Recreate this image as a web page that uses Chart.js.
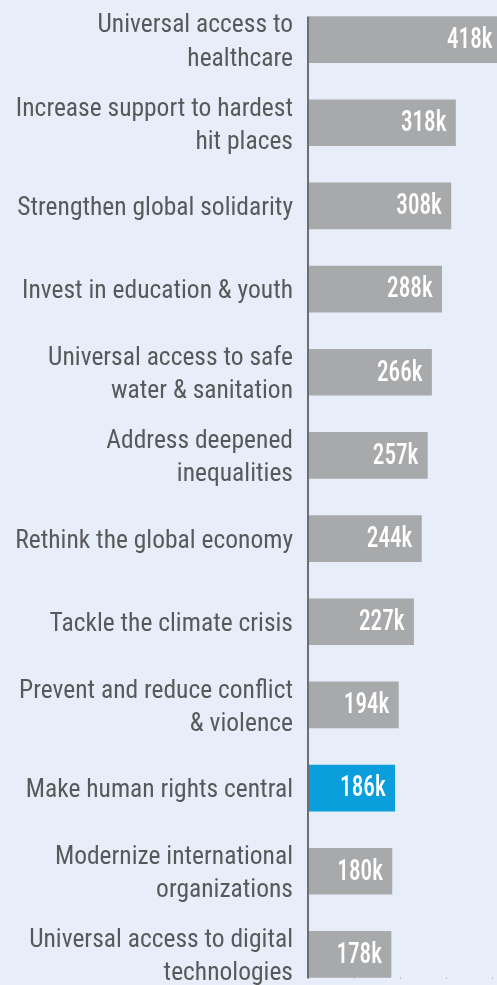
<!DOCTYPE html>
<html>
<head>
<meta charset="utf-8">
<script src="https://cdn.jsdelivr.net/npm/chart.js@4.4.1/dist/chart.umd.min.js"></script>
<style>
  html, body { margin: 0; padding: 0; background: #e7eef9; width: 497px; height: 985px; overflow: hidden; }
  #wrap { position: absolute; left: 0; top: -2px; }
  canvas { display: block; }
</style>
</head>
<body>
<div id="wrap"><canvas id="c" width="520" height="998"></canvas></div>
<script>
const categories = [
  ["Universal access to", "healthcare"],
  ["Increase support to hardest", "hit places"],
  "Strengthen global solidarity",
  "Invest in education & youth",
  ["Universal access to safe", "water & sanitation"],
  ["Address deepened", "inequalities"],
  "Rethink the global economy",
  "Tackle the climate crisis",
  ["Prevent and reduce conflict", "& violence"],
  "Make human rights central",
  ["Modernize international", "organizations"],
  ["Universal access to digital", "technologies"]
];
const values = [418, 318, 308, 288, 266, 257, 244, 227, 194, 186, 180, 178];
const valueLabels = ["418k", "318k", "308k", "288k", "266k", "257k", "244k", "227k", "194k", "186k", "180k", "178k"];
const highlightIndex = 9;
const axisTicks = [0, 100, 200, 300, 400];

const FONT = '"Roboto Condensed", "Liberation Sans Narrow", "DejaVu Sans Condensed", "Arial Narrow", sans-serif';
const GRAY = '#a8a9ab';
const BLUE = '#0a9edc';

const overlay = {
  id: 'overlay',
  afterDatasetsDraw(chart) {
    const ctx = chart.ctx;
    const meta = chart.getDatasetMeta(0);
    const bars = meta.data;
    const xs = chart.scales.x;
    // value labels (narrowed)
    const sx = 0.8;
    bars.forEach((b, i) => {
      ctx.save();
      ctx.translate(b.x - 9, b.y + 1);
      ctx.scale(sx, 1);
      ctx.font = '500 29px ' + FONT;
      ctx.fillStyle = '#ffffff';
      ctx.textAlign = 'right';
      ctx.textBaseline = 'middle';
      ctx.fillText(valueLabels[i], 0, 0);
      ctx.restore();
    });
    ctx.save();
    // axis line from first bar top to last bar bottom
    const first = bars[0], last = bars[bars.length - 1];
    const top = first.y - first.height / 2;
    const bottom = last.y + last.height / 2;
    ctx.strokeStyle = '#6e6e70';
    ctx.lineWidth = 2;
    ctx.beginPath();
    ctx.moveTo(xs.getPixelForValue(0) - 1, top);
    ctx.lineTo(xs.getPixelForValue(0) - 1, bottom + 1);
    ctx.stroke();
    // small tick marks
    ctx.fillStyle = '#9a9a9c';
    axisTicks.forEach(v => {
      if (v === 0) return;
      const x = Math.round(xs.getPixelForValue(v));
      ctx.fillRect(x - 1, bottom, 1, 1);
    });
    ctx.restore();
  }
};

new Chart(document.getElementById('c'), {
  type: 'bar',
  data: {
    labels: categories,
    datasets: [{
      data: values,
      backgroundColor: values.map((v, i) => i === highlightIndex ? BLUE : GRAY),
      borderWidth: 0,
      barThickness: 46
    }]
  },
  options: {
    indexAxis: 'y',
    responsive: false,
    animation: false,
    devicePixelRatio: 1,
    layout: { padding: 0 },
    plugins: { legend: { display: false }, tooltip: { enabled: false } },
    scales: {
      x: {
        display: false,
        min: 0,
        max: 458
      },
      y: {
        afterFit(scale) {
          scale.width = 309;
          scale.paddingTop = 0;
          scale.paddingBottom = 0;
        },
        grid: { display: false, drawTicks: false },
        border: { display: false },
        ticks: {
          padding: 16,
          labelOffset: 3,
          color: '#58595b',
          font: { family: FONT, size: 25.5, lineHeight: 1.3 }
        }
      }
    }
  },
  plugins: [overlay]
});
</script>
</body>
</html>
